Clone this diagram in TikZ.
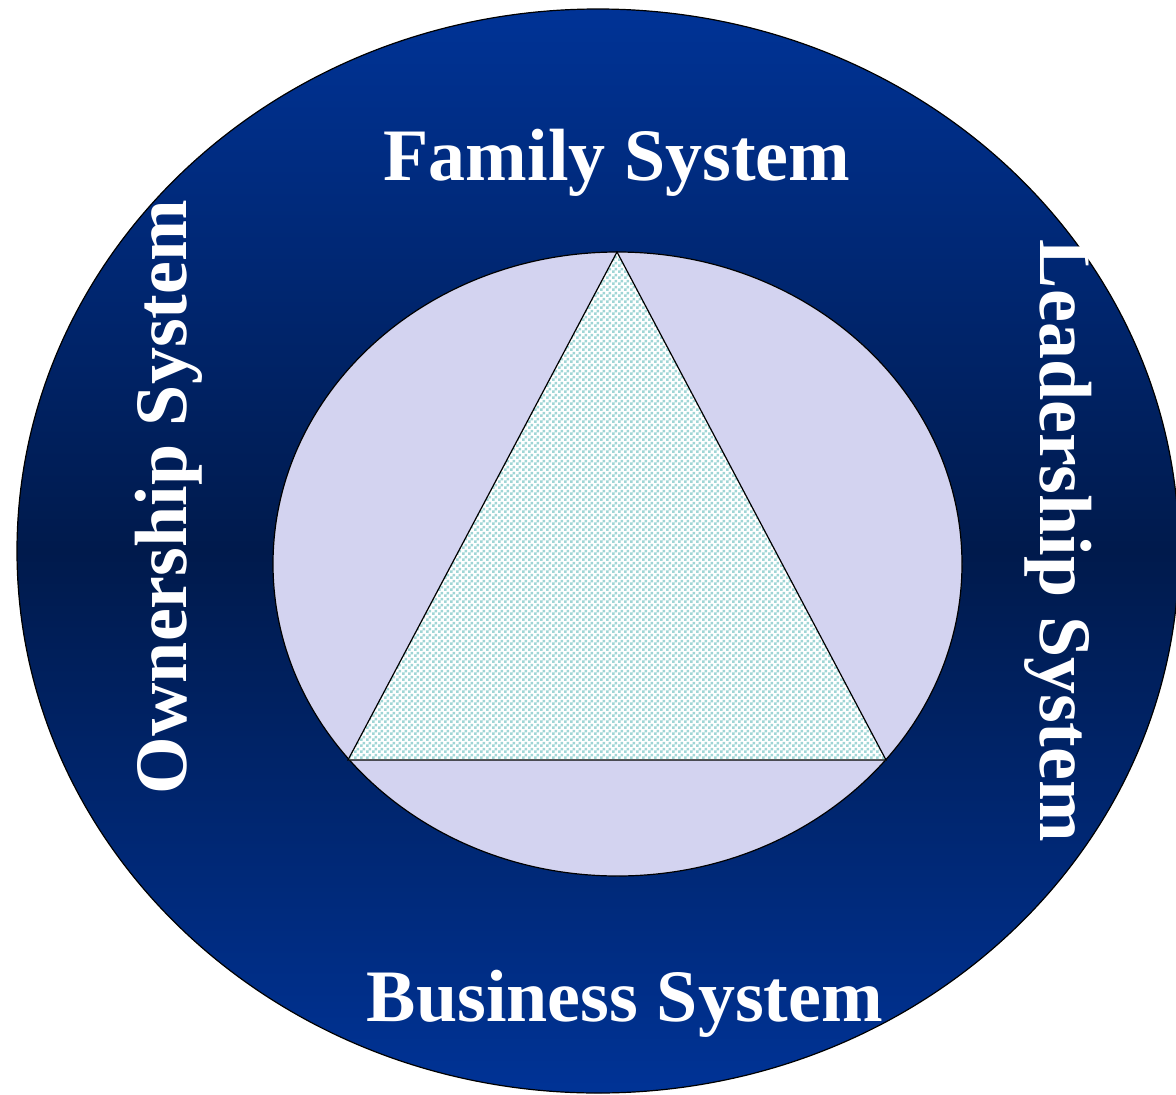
\documentclass[tikz,border=0pt]{standalone}
\usepackage{fontspec}
\setmainfont{Liberation Serif}
\usetikzlibrary{shapes.geometric,patterns}
\definecolor{ringtop}{RGB}{0,51,150}
\definecolor{ringmid}{RGB}{0,26,76}
\definecolor{innerfill}{RGB}{211,211,240}
\definecolor{tealck}{RGB}{160,214,214}
\pgfdeclarepatternformonly{checker}{\pgfqpoint{0pt}{0pt}}{\pgfqpoint{6pt}{6pt}}{\pgfqpoint{6pt}{6pt}}{%
  \pgfpathrectangle{\pgfqpoint{0pt}{0pt}}{\pgfqpoint{3pt}{3pt}}%
  \pgfpathrectangle{\pgfqpoint{3pt}{3pt}}{\pgfqpoint{3pt}{3pt}}%
  \pgfusepath{fill}}
\tikzset{
  label text/.style={text=white, font=\fontsize{74}{74}\selectfont\bfseries, inner sep=0pt},
}
\begin{document}
\begin{tikzpicture}[x=1pt,y=-1pt]
\useasboundingbox (0,0) rectangle (1176,1095);
\node[ellipse, draw=black, line width=1.2pt, minimum width=1162pt, minimum height=1084pt, inner sep=0pt,
      top color=ringtop, bottom color=ringtop, middle color=ringmid] (outer) at (598,551) {};
\node[ellipse, draw=black, line width=1.2pt, fill=innerfill, minimum width=689pt, minimum height=624pt, inner sep=0pt] (inner) at (617.5,564) {};
\coordinate (apex) at (617,252);
\coordinate (bl) at (348,760);
\coordinate (br) at (886,760);
\fill[white] (apex) -- (bl) -- (br) -- cycle;
\fill[pattern=checker, pattern color=tealck] (apex) -- (bl) -- (br) -- cycle;
\draw[line width=1.2pt, line join=miter] (apex) -- (bl) -- (br) -- cycle;
\node[label text, anchor=base] (family) at (617,180) {Family System};
\node[label text, anchor=base] (business) at (625,1021) {Business System};
\node[label text, anchor=base, rotate=90] (owner) at (186,497) {Ownership System};
\node[label text, anchor=base, rotate=-90] (leader) at (1040,541) {Leadership System};
\end{tikzpicture}
\end{document}
